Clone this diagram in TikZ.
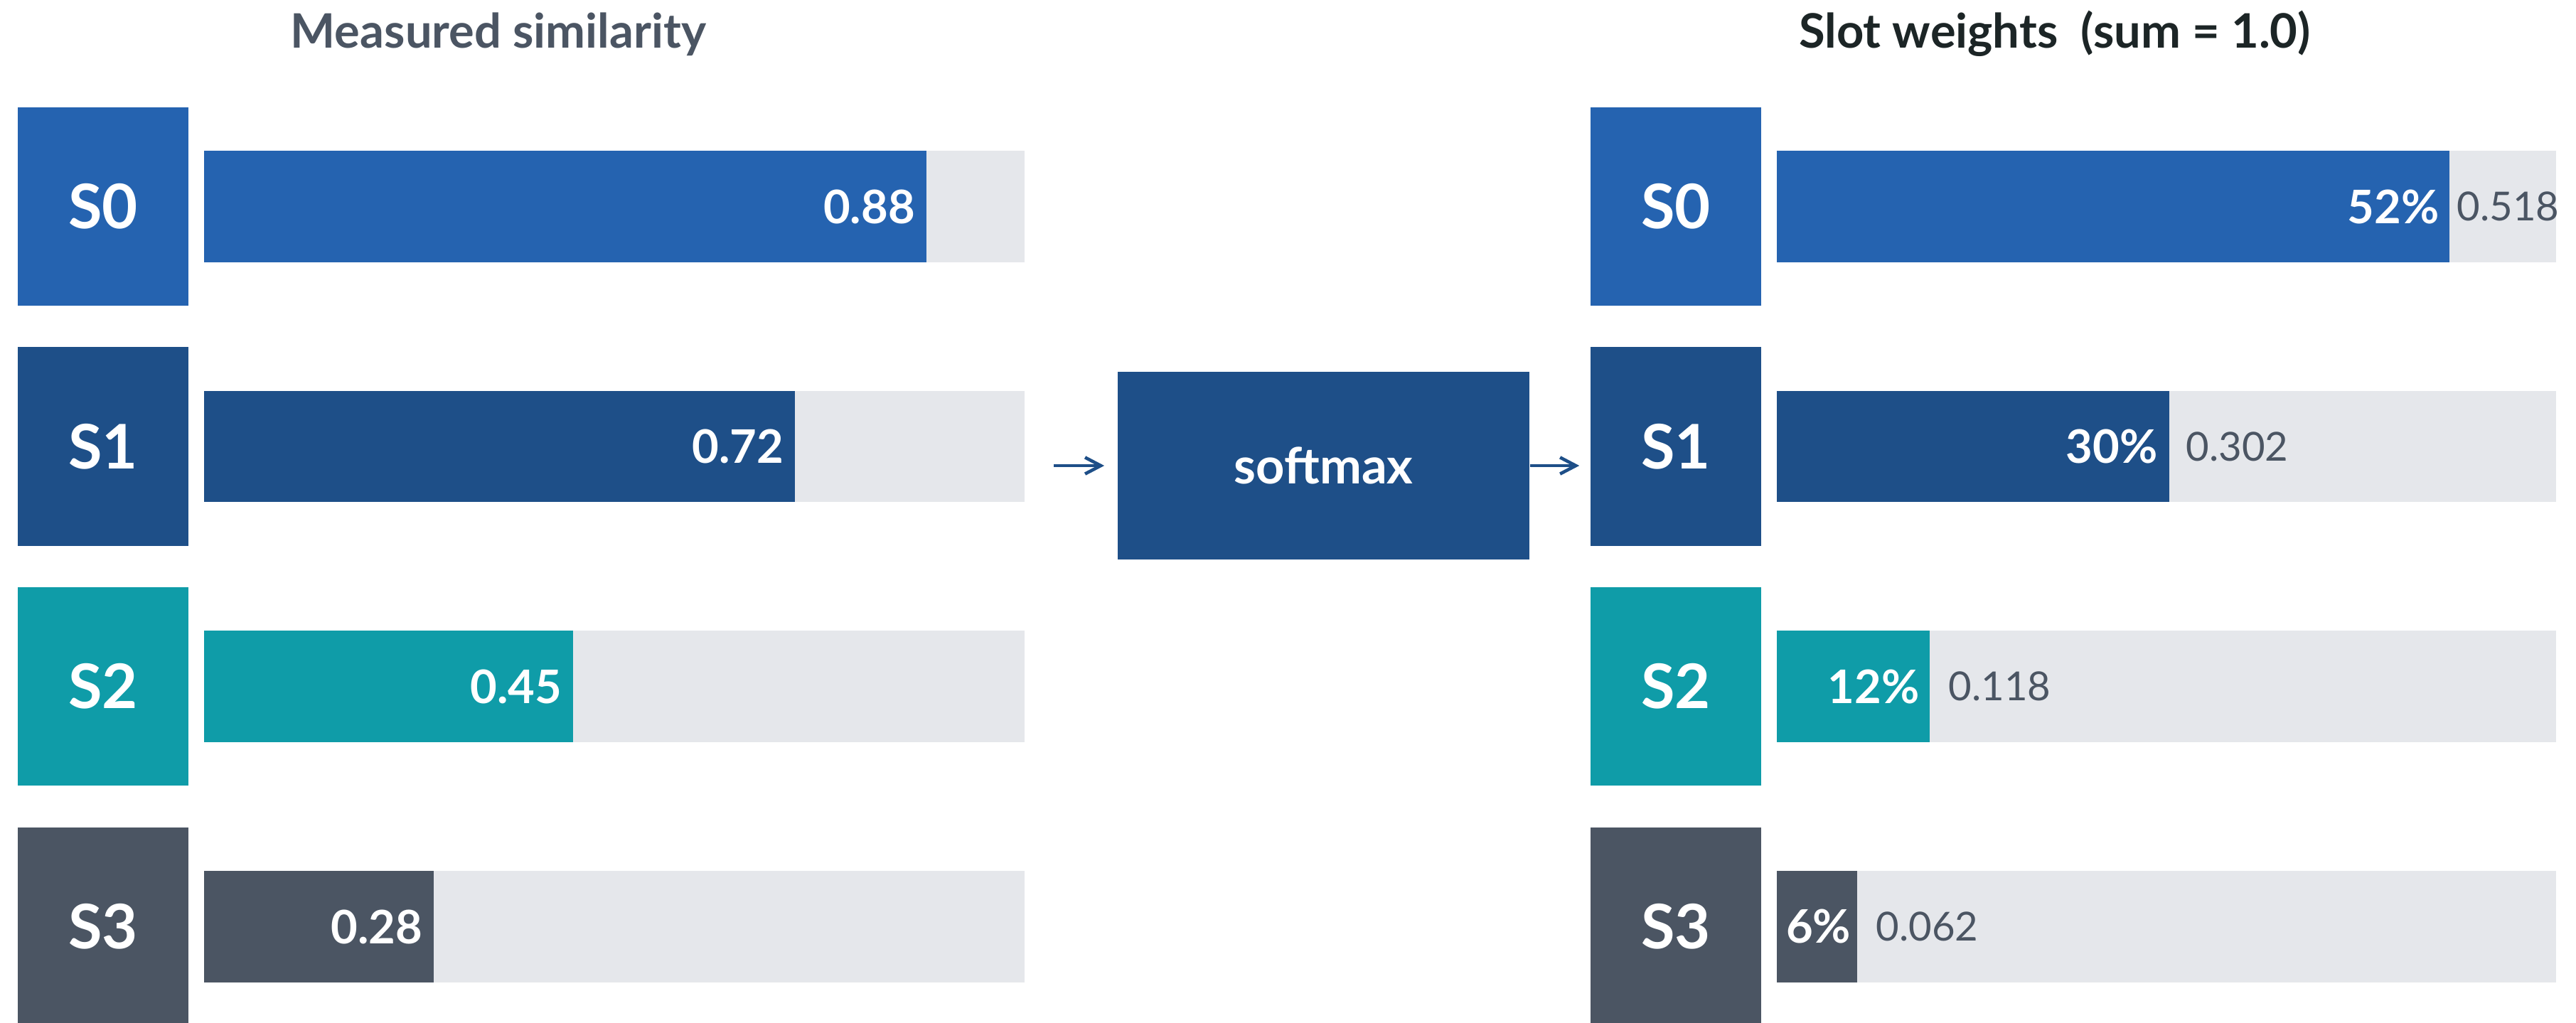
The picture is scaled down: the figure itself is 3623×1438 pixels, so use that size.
\documentclass[tikz,border=0pt]{standalone}
\usepackage{fontspec}
\setmainfont{Lato}
\usetikzlibrary{arrows.meta}
\definecolor{slotA}{HTML}{2563B0}
\definecolor{slotB}{HTML}{1E4F88}
\definecolor{slotC}{HTML}{0F9CA8}
\definecolor{slotD}{HTML}{4B5563}
\definecolor{trackgray}{HTML}{E5E7EB}
\definecolor{slate}{HTML}{4B5563}
\definecolor{inkdark}{HTML}{1C2526}
\begin{document}
\begin{tikzpicture}[x=0.01cm,y=-0.01cm,
  slotbox/.style={rectangle, inner sep=0, minimum width=2.4cm, minimum height=2.79cm,
    text=white, font=\bfseries\fontsize{24.6}{28}\selectfont},
  track/.style={rectangle, inner sep=0, minimum height=1.56cm, fill=trackgray, anchor=west},
  barfill/.style={rectangle, inner sep=0, minimum height=1.56cm, anchor=west},
  inval/.style={anchor=east, inner sep=0, text=white, font=\bfseries\fontsize{18.5}{22}\selectfont},
  outval/.style={anchor=west, inner sep=0, text=slate, font=\fontsize{16}{19}\selectfont},
  flow/.style={draw=slotB, line width=1.3pt,
    -{Straight Barb[length=6.3pt,width=6.6pt]}},
  heading/.style={anchor=base, inner sep=0, font=\bfseries\fontsize{19}{23}\selectfont}]

\clip (0,0) rectangle (3623,1438);
\useasboundingbox (0,0) rectangle (3623,1438);

% ---------- headings ----------
\node[heading, text=slate]   (hL) at (701,67)  {Measured similarity};
\node[heading, text=inkdark] (hR) at (2890,67) {Slot weights\ \ (sum = 1.0)};

% ---------- measured similarity (left) ----------
\node[slotbox, fill=slotA] (L0) at (145,290.5)  {S0};
\node[slotbox, fill=slotB] (L1) at (145,628)    {S1};
\node[slotbox, fill=slotC] (L2) at (145,965.5)  {S2};
\node[slotbox, fill=slotD] (L3) at (145,1303.5) {S3};

\foreach \i/\y in {0/290.5,1/628,2/965.5,3/1303.5}
  \node[track, minimum width=11.54cm] (LT\i) at (286,\y) {};

\node[barfill, fill=slotA, minimum width=10.155cm] (LB0) at (286,290.5)  {};
\node[barfill, fill=slotB, minimum width=8.309cm]  (LB1) at (286,628)    {};
\node[barfill, fill=slotC, minimum width=5.193cm]  (LB2) at (286,965.5)  {};
\node[barfill, fill=slotD, minimum width=3.231cm]  (LB3) at (286,1303.5) {};

\node[inval] (LV0) at ([xshift=-0.16cm]LB0.east) {0.88};
\node[inval] (LV1) at ([xshift=-0.16cm]LB1.east) {0.72};
\node[inval] (LV2) at ([xshift=-0.16cm]LB2.east) {0.45};
\node[inval] (LV3) at ([xshift=-0.16cm]LB3.east) {0.28};

% ---------- softmax stage ----------
\node[rectangle, inner sep=0, fill=slotB, minimum width=5.79cm, minimum height=2.64cm,
  text=white, font=\bfseries\fontsize{20}{24}\selectfont] (soft) at (1861.5,655) {softmax};

% ---------- slot weights (right) ----------
\node[slotbox, fill=slotA] (R0) at (2357,290.5)  {S0};
\node[slotbox, fill=slotB] (R1) at (2357,628)    {S1};
\node[slotbox, fill=slotC] (R2) at (2357,965.5)  {S2};
\node[slotbox, fill=slotD] (R3) at (2357,1303.5) {S3};

\foreach \i/\y in {0/290.5,1/628,2/965.5,3/1303.5}
  \node[track, minimum width=10.96cm] (RT\i) at (2498,\y) {};

\node[barfill, fill=slotA, minimum width=9.462cm] (RB0) at (2498,290.5)  {};
\node[barfill, fill=slotB, minimum width=5.517cm] (RB1) at (2498,628)    {};
\node[barfill, fill=slotC, minimum width=2.155cm] (RB2) at (2498,965.5)  {};
\node[barfill, fill=slotD, minimum width=1.133cm] (RB3) at (2498,1303.5) {};

\node[inval] (RP0) at ([xshift=-0.15cm]RB0.east) {52\%};
\node[inval] (RP1) at ([xshift=-0.16cm]RB1.east) {30\%};
\node[inval] (RP2) at ([xshift=-0.15cm]RB2.east) {12\%};
\node[inval] (RP3) at ([xshift=-0.09cm]RB3.east) {6\%};

\node[outval] (RV0) at (3455,290.5)  {0.518};
\node[outval] (RV1) at (3074,628)    {0.302};
\node[outval] (RV2) at (2740,965.5)  {0.118};
\node[outval] (RV3) at (2638,1303.5) {0.062};

% ---------- flow arrows ----------
\coordinate (srcA) at (1482,655);
\draw[flow, shorten >=0.18cm] (srcA) -- (soft.west);
\draw[flow, shorten >=0.15cm] (soft.east) -- (soft.east -| R1.west);
\end{tikzpicture}
\end{document}
